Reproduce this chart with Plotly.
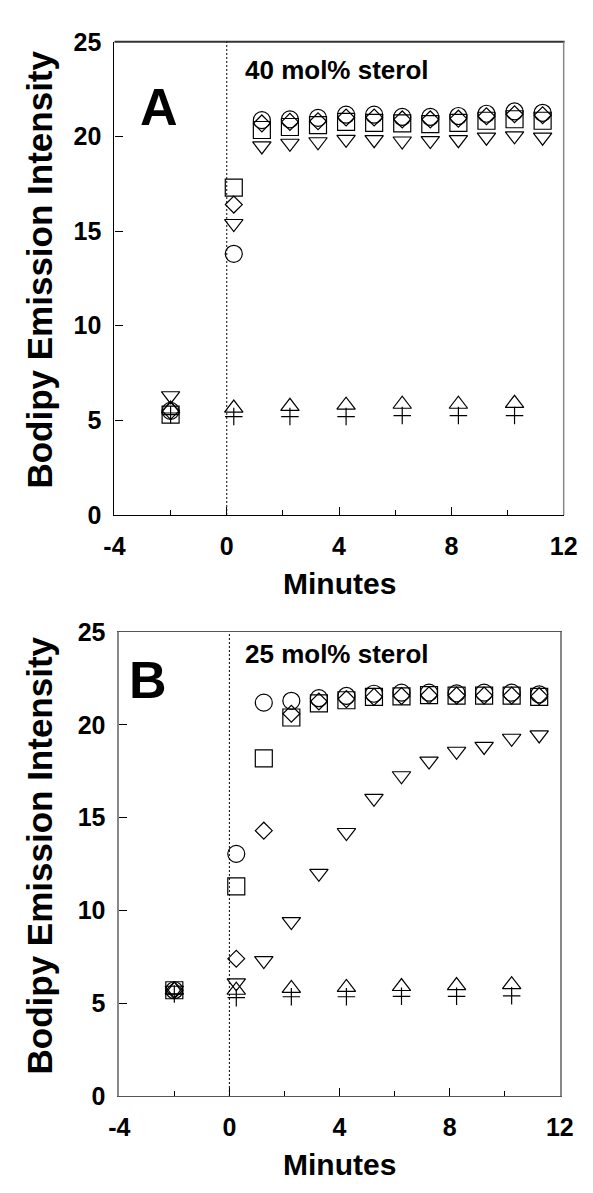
import plotly.graph_objects as go

W, H = 593, 1193

# ---------------- data ----------------
x_main = [-2, 0.25, 1.25, 2.25, 3.25, 4.25, 5.25, 6.25, 7.25, 8.25, 9.25, 10.25, 11.25]
x_ctrl = [-2, 0.25, 2.25, 4.25, 6.25, 8.25, 10.25]

# Panel A: 40 mol% sterol
A_circle = [5.5, 13.8, 20.86, 20.9, 20.98, 21.15, 21.15, 21.03, 21.03, 21.08, 21.2, 21.32, 21.25]
A_square = [5.3, 17.3, 20.34, 20.5, 20.6, 20.77, 20.72, 20.69, 20.65, 20.72, 20.83, 20.91, 20.83]
A_diamond = [5.5, 16.4, 20.69, 20.77, 20.8, 21.0, 21.0, 20.9, 20.9, 20.94, 21.07, 21.17, 21.12]
A_tridown = [6.3, 15.4, 19.5, 19.64, 19.72, 19.85, 19.83, 19.76, 19.78, 19.83, 19.96, 20.03, 19.96]
A_triup = [5.6, 5.65, 5.74, 5.8, 5.85, 5.85, 5.9]
A_plus = [5.3, 5.2, 5.2, 5.2, 5.25, 5.25, 5.25]

# Panel B: 25 mol% sterol
B_circle = [5.7, 13.05, 21.2, 21.3, 21.44, 21.56, 21.68, 21.74, 21.74, 21.7, 21.74, 21.74, 21.65]
B_square = [5.7, 11.3, 18.2, 20.4, 21.16, 21.33, 21.51, 21.54, 21.61, 21.58, 21.58, 21.58, 21.51]
B_diamond = [5.7, 7.4, 14.3, 20.6, 21.26, 21.39, 21.51, 21.56, 21.6, 21.58, 21.58, 21.58, 21.55]
B_tridown = [5.7, 6.1, 7.3, 9.4, 12.0, 14.2, 16.04, 17.26, 18.05, 18.58, 18.84, 19.28, 19.46]
B_triup = [5.7, 5.7, 5.8, 5.85, 5.9, 5.95, 6.0]
B_plus = [5.5, 5.3, 5.35, 5.35, 5.37, 5.37, 5.4]

x_ticks = [-4, 0, 4, 8, 12]
x_ticktext = ["-4", "0", "4", "8", "12"]
x_minor = [-2, 2, 6, 10]
y_ticks = [0, 5, 10, 15, 20, 25]

FONT = "Liberation Sans"


def px(x):
    return x / W


def py(y):
    return 1 - y / H


fig = go.Figure()


def add_series(xs, ys, symbol, size, xa, ya):
    fig.add_trace(go.Scatter(
        x=xs, y=ys, mode="markers", xaxis=xa, yaxis=ya, showlegend=False,
        marker=dict(symbol=symbol, size=size, color="black",
                    line=dict(color="black", width=1.2)),
    ))


for (xa, ya, circ, sq, dia, td, tu, pl) in [
    ("x", "y", A_circle, A_square, A_diamond, A_tridown, A_triup, A_plus),
    ("x2", "y2", B_circle, B_square, B_diamond, B_tridown, B_triup, B_plus),
]:
    add_series(x_main, circ, "circle-open", 17, xa, ya)
    add_series(x_main, sq, "square-open", 17, xa, ya)
    add_series(x_main, dia, "diamond-open", 13, xa, ya)
    add_series(x_main, td, "triangle-down-open", 16, xa, ya)
    add_series(x_ctrl, tu, "triangle-up-open", 16, xa, ya)
    add_series(x_ctrl, pl, "cross-thin-open", 12.5, xa, ya)

# plot area geometry (pixels)
A_l, A_r, A_t, A_b = 108, 577, 28.5, 513
B_l, B_r, B_t, B_b = 113, 573, 633, 1108

tickfont = dict(family=FONT, size=25, color="black", weight="bold")

common_x = dict(range=[-4, 12], tickvals=x_ticks, ticktext=x_ticktext, ticks="inside",
                ticklen=8, tickwidth=1, tickcolor="black", showgrid=False, zeroline=False,
                tickfont=tickfont,
                minor=dict(ticks="inside", ticklen=5, tickwidth=1, tickcolor="black",
                           tickvals=x_minor, showgrid=False),
                ticklabelstandoff=9)
common_y = dict(range=[0, 25], tickvals=y_ticks, ticks="inside", ticklen=8, tickwidth=1,
                tickcolor="black", showgrid=False, zeroline=False, tickfont=tickfont,
                ticklabelstandoff=7)

fig.update_layout(
    width=W, height=H, margin=dict(l=0, r=0, t=0, b=0),
    paper_bgcolor="white", plot_bgcolor="white", showlegend=False,
    xaxis=dict(domain=[px(A_l), px(A_r)], anchor="y", showline=True, linecolor="black",
               linewidth=1.3, **common_x),
    yaxis=dict(domain=[py(A_b), py(A_t)], anchor="x", showline=True, linecolor="black",
               linewidth=1.3, **common_y),
    xaxis2=dict(domain=[px(B_l), px(B_r)], anchor="y2", showline=True, linecolor="#555555",
                linewidth=1.3, mirror=True, **common_x),
    yaxis2=dict(domain=[py(B_b), py(B_t)], anchor="x2", showline=True, linecolor="#888888",
                linewidth=1.5, mirror=True, **common_y),
)

# frame of panel A (top dark, right grey)
fig.add_shape(type="line", xref="paper", yref="paper", x0=px(A_l), x1=px(A_r + 1),
              y0=py(A_t), y1=py(A_t), line=dict(color="#333333", width=2))
fig.add_shape(type="line", xref="paper", yref="paper", x0=px(A_r), x1=px(A_r),
              y0=py(A_b), y1=py(A_t), line=dict(color="#888888", width=1.5))

# dashed line at t = 0
for xr, yr in [("x", "y"), ("x2", "y2")]:
    fig.add_shape(type="line", xref=xr, yref=yr, x0=0, x1=0, y0=0, y1=25,
                  line=dict(color="black", width=1, dash="2px,2px"))

bold = lambda s: dict(family=FONT, size=s, color="black", weight="bold")

ann = [
    dict(text="A", x=px(154), y=py(95), font=bold(52), xanchor="center", yanchor="middle"),
    dict(text="40 mol% sterol", x=px(242), y=py(57), font=bold(26), xanchor="left", yanchor="middle"),
    dict(text="B", x=px(143), y=py(682), font=bold(52), xanchor="center", yanchor="middle"),
    dict(text="25 mol% sterol", x=px(242), y=py(655), font=bold(26), xanchor="left", yanchor="middle"),
    dict(text="Minutes", x=px((A_l + A_r) / 2), y=py(583), font=bold(30), xanchor="center", yanchor="middle"),
    dict(text="Minutes", x=px((B_l + B_r) / 2), y=py(1178), font=bold(30), xanchor="center", yanchor="middle"),
    dict(text="Bodipy Emission Intensity", x=px(30), y=py(262), font=bold(35),
         textangle=-90, xanchor="center", yanchor="middle"),
    dict(text="Bodipy Emission Intensity", x=px(30), y=py(862), font=bold(35),
         textangle=-90, xanchor="center", yanchor="middle"),
]
for a in ann:
    fig.add_annotation(xref="paper", yref="paper", showarrow=False, **a)

fig.write_html("out.html")
